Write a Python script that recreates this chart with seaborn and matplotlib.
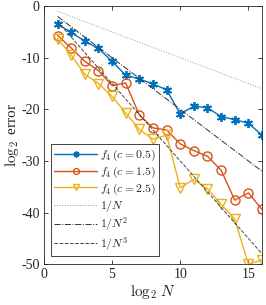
import matplotlib
matplotlib.use("Agg")
import matplotlib.pyplot as plt
import seaborn as sns
import pandas as pd

# log2 N
log2_n = [1, 2, 3, 4, 5, 6, 7, 8, 9, 10, 11, 12, 13, 14, 15, 16]

# log2 error per c
err_c05 = [-3.5, -5.1, -6.8, -8.2, -10.7, -13.4, -14.1, -15.1, -16.2,
           -20.9, -19.4, -19.7, -21.4, -22.0, -22.7, -25.0]
err_c15 = [-5.7, -8.1, -10.7, -12.5, -15.4, -14.9, -21.1, -23.6, -24.0,
           -26.7, -28.0, -29.1, -31.8, -37.6, -36.2, -39.4]
err_c25 = [-6.3, -9.5, -13.2, -15.0, -17.5, -20.7, -23.9, -25.8, -25.0,
           -35.2, -33.6, -35.4, -38.4, -41.3, -50.0, -49.2]

# reference slopes
ref_n1 = [-1, -2, -3, -4, -5, -6, -7, -8, -9, -10, -11, -12, -13, -14, -15, -16]
ref_n2 = [-2, -4, -6, -8, -10, -12, -14, -16, -18, -20, -22, -24, -26, -28, -30, -32]
ref_n3 = [-3, -6, -9, -12, -15, -18, -21, -24, -27, -30, -33, -36, -39, -42, -45, -48]

sns.set_style("ticks")
plt.rcParams['font.family'] = ['Liberation Serif', 'DejaVu Serif']
plt.rcParams['mathtext.fontset'] = 'cm'
plt.rcParams['axes.unicode_minus'] = False

df = pd.DataFrame({
    'n': log2_n,
    'c05': err_c05, 'c15': err_c15, 'c25': err_c25,
    'r1': ref_n1, 'r2': ref_n2, 'r3': ref_n3,
})

fig = plt.figure(figsize=(2.66, 3.05), dpi=100)
ax = fig.add_axes([0.165, 0.134, 0.82, 0.846])

sns.lineplot(data=df, x='n', y='c05', ax=ax, color='#0072BD', lw=1.0,
             marker=(6, 2, 0), markersize=6.5, markeredgewidth=1.3,
             markeredgecolor='#0072BD',
             label=r'$f_4\,(c=0.5)$')
sns.lineplot(data=df, x='n', y='c15', ax=ax, color='#D95319', lw=1.0,
             marker='o', markersize=6.5, markerfacecolor='none',
             markeredgecolor='#D95319', markeredgewidth=1.0,
             label=r'$f_4\,(c=1.5)$')
sns.lineplot(data=df, x='n', y='c25', ax=ax, color='#EDB120', lw=1.0,
             marker='v', markersize=6.5, markerfacecolor='none',
             markeredgecolor='#EDB120', markeredgewidth=1.0,
             label=r'$f_4\,(c=2.5)$')
sns.lineplot(data=df, x='n', y='r1', ax=ax, color='#999999', lw=0.7,
             linestyle=':', label=r'$1/N$')
sns.lineplot(data=df, x='n', y='r2', ax=ax, color='#333333', lw=0.7,
             linestyle='-.', label=r'$1/N^2$')
sns.lineplot(data=df, x='n', y='r3', ax=ax, color='#444444', lw=0.7,
             linestyle='--', label=r'$1/N^3$')

ax.set_xlim(0, 16)
ax.set_ylim(-50, 0)
ax.set_xticks([0, 5, 10, 15])
ax.set_yticks([-50, -40, -30, -20, -10, 0])
ax.set_xlabel(r'$\log_2\,N$', fontsize=11, labelpad=1)
ax.set_ylabel(r'$\log_2$ error', fontsize=11, labelpad=0)
ax.tick_params(direction='in', top=True, right=True, labelsize=10,
               length=3, width=0.6, pad=3)
for s in ax.spines.values():
    s.set_visible(True)
    s.set_linewidth(0.6)
    s.set_color('#262626')

leg = ax.legend(loc='lower left', bbox_to_anchor=(0.032, 0.031),
                fontsize=8.5, handlelength=3.6, handletextpad=0.25,
                labelspacing=0.12, borderpad=0.3, borderaxespad=0,
                markerscale=0.65, fancybox=False, framealpha=1)
leg.get_frame().set_edgecolor('#262626')
leg.get_frame().set_linewidth(0.6)

fig.savefig('out.png', dpi=100)
